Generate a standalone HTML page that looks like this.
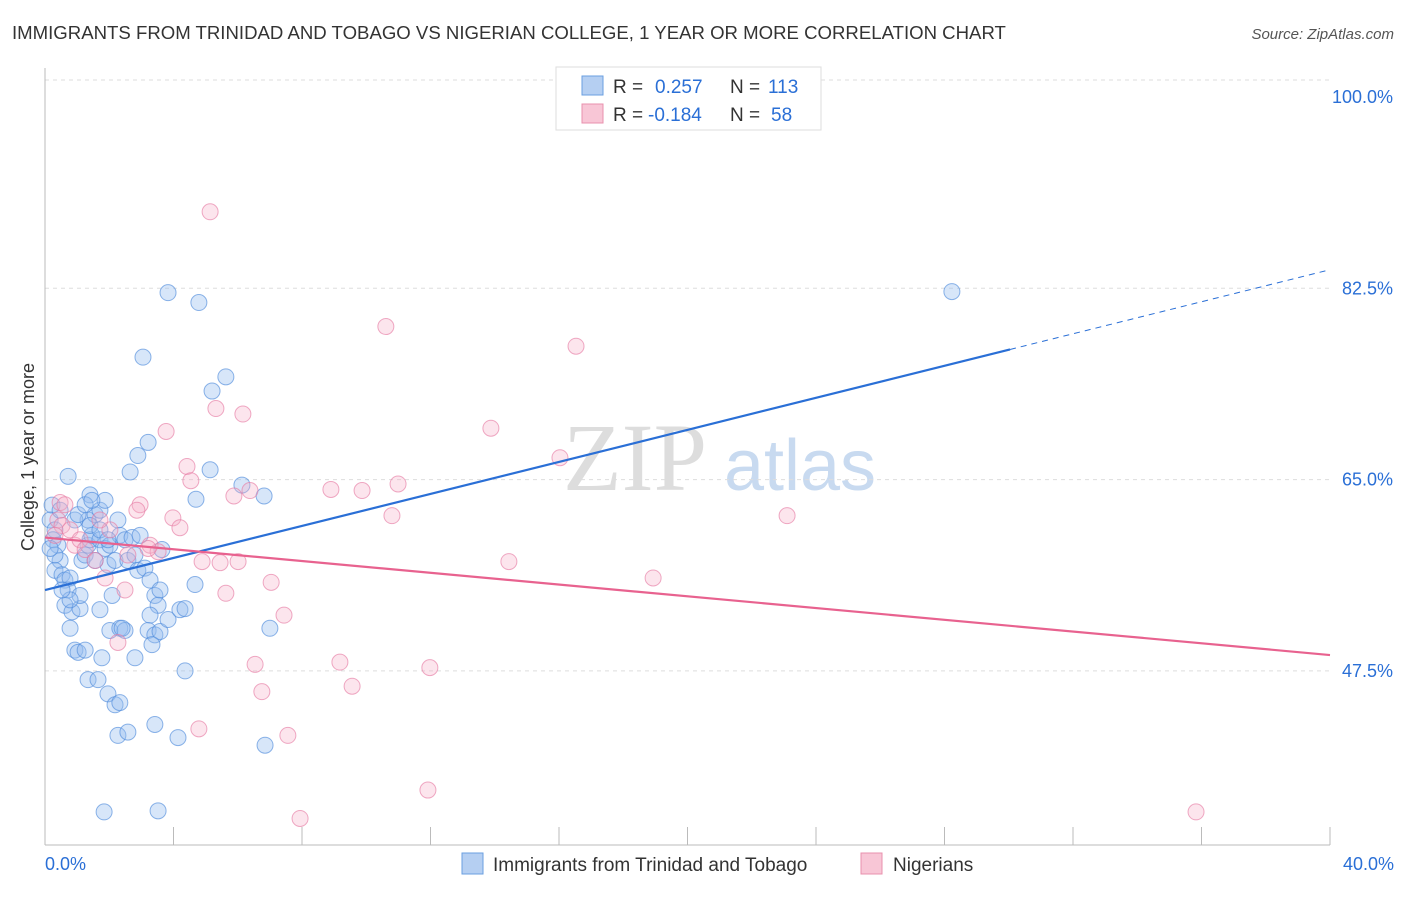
<!DOCTYPE html>
<html><head><meta charset="utf-8"><style>
body{margin:0;background:#fff;font-family:"Liberation Sans",sans-serif;}
svg text{font-family:"Liberation Sans",sans-serif;}
</style></head><body>
<svg id="chart" width="1406" height="892">
<text x="12" y="39" font-size="18.6" fill="#333">IMMIGRANTS FROM TRINIDAD AND TOBAGO VS NIGERIAN COLLEGE, 1 YEAR OR MORE CORRELATION CHART</text>
<text x="1394" y="39" font-size="15" fill="#555" font-style="italic" text-anchor="end">Source: ZipAtlas.com</text>
<text x="34" y="457" font-size="18" fill="#333" text-anchor="middle" transform="rotate(-90 34 457)">College, 1 year or more</text>
<g>
<text x="635" y="490" font-size="96" fill="#ddd" font-family="Liberation Serif" text-anchor="middle" style="font-family:'Liberation Serif',serif">ZIP</text>
<text x="800" y="490" font-size="72" fill="#c8daf0" text-anchor="middle">atlas</text>
</g>
<g id="grid"></g><g id="axes"></g><g id="pts"></g><g id="trend"></g>
<g>
<rect x="556" y="67" width="265" height="63" fill="#fff" stroke="#ddd"/>
<rect x="582" y="76" width="21" height="19" fill="#b5cff2" stroke="#6a9fe0"/>
<rect x="582" y="104" width="21" height="19" fill="#f8c6d6" stroke="#e890ad"/>
<text y="93" font-size="19" fill="#333"><tspan x="613">R =</tspan><tspan x="655" fill="#2a6fd6">0.257</tspan><tspan x="730">N =</tspan><tspan x="768" fill="#2a6fd6">113</tspan></text>
<text y="121" font-size="19" fill="#333"><tspan x="613">R =</tspan><tspan x="648" fill="#2a6fd6">-0.184</tspan><tspan x="730">N =</tspan><tspan x="771" fill="#2a6fd6">58</tspan></text>
</g>
<g>
<rect x="462" y="853" width="21" height="21" fill="#b5cff2" stroke="#6a9fe0"/>
<text x="493" y="871" font-size="19" fill="#333">Immigrants from Trinidad and Tobago</text>
<rect x="861" y="853" width="21" height="21" fill="#f8c6d6" stroke="#e890ad"/>
<text x="893" y="871" font-size="19" fill="#333">Nigerians</text>
</g>
</svg>
<script>
const yTicks=[100,82.5,65,47.5];
const yTickLabels=["100.0%","82.5%","65.0%","47.5%"];
const xTickLabels=["0.0%","40.0%"];
const blueX=[0.22,0.16,0.31,0.25,0.40,0.47,0.31,0.53,0.62,0.78,0.72,0.62,0.84,0.78,0.93,1.03,1.09,1.15,1.25,1.34,1.40,1.46,1.34,1.56,1.71,1.87,1.40,0.72,1.71,1.87,2.02,1.96,2.09,2.18,2.27,2.33,2.49,2.58,2.71,2.80,2.89,3.11,3.27,3.42,3.58,3.52,3.27,3.21,3.42,3.58,3.33,3.83,4.20,4.36,4.67,5.14,2.65,2.89,3.21,3.05,3.83,4.79,5.20,5.63,6.13,6.82,4.70,2.02,2.33,2.49,1.77,1.25,1.34,1.65,1.96,2.18,2.33,2.27,2.58,2.80,3.42,4.14,4.36,6.85,7.00,1.84,3.52,28.23,0.47,0.93,1.40,1.71,1.56,1.96,1.09,0.78,0.53,0.31,0.16,1.71,2.40,2.96,3.64,1.03,1.25,1.46];
const blueY=[62.67,61.3,60.4,59.5,59.0,57.6,56.7,56.3,55.8,56.0,54.9,53.5,52.9,51.4,49.4,49.2,53.2,57.6,58.1,59.0,59.5,59.9,61.3,61.8,62.2,63.1,63.6,65.3,59.5,58.7,59.0,57.2,54.4,57.6,61.3,59.9,59.5,57.6,59.7,58.1,56.7,56.9,55.8,54.4,54.9,53.5,52.6,51.2,50.8,51.1,49.9,52.2,53.1,53.2,55.4,65.9,65.7,67.2,68.4,76.2,82.1,81.2,73.1,74.4,64.5,63.5,63.2,51.2,51.4,51.2,48.7,49.4,46.7,46.7,45.4,44.4,44.6,41.6,41.9,48.7,42.6,41.4,47.5,40.7,51.4,34.6,34.7,82.2,62.2,61.3,60.8,60.4,57.6,59.5,54.4,54.0,54.9,58.1,58.7,53.1,51.4,59.9,58.6,61.8,62.7,63.1];
const pinkX=[5.14,10.61,16.53,3.77,5.32,6.16,4.42,4.54,5.88,6.38,8.90,9.87,10.99,10.80,13.88,16.03,23.10,14.44,18.93,2.96,2.86,3.98,4.20,0.47,0.62,0.40,0.53,0.31,0.78,0.93,1.09,1.25,2.02,2.58,3.27,3.52,1.87,2.49,4.89,5.45,6.01,7.04,5.63,7.44,2.27,6.54,9.18,9.56,11.98,6.75,4.79,7.56,7.94,11.92,35.83,1.56,3.21,1.71];
const pinkY=[89.5,79.0,77.2,69.4,71.5,71.0,66.2,64.9,63.5,64.0,64.1,64.0,64.6,61.7,69.7,67.0,61.7,57.5,56.0,62.7,62.2,61.5,60.6,62.9,62.7,61.3,60.8,59.9,60.4,59.0,59.5,58.6,60.4,58.1,59.0,58.4,56.0,54.9,57.5,57.4,57.5,55.6,54.6,52.6,50.1,48.1,48.3,46.1,47.8,45.6,42.2,41.6,34.0,36.6,34.6,57.6,58.7,61.3];
const blueTrend=[54.9,84.2]; const blueSolidEnd=30.04;
const pinkTrend=[59.7,48.95];

const NS="http://www.w3.org/2000/svg";
const sx=v=>45+v/40*1285;
const sy=v=>97+(100-v)*(191.3/17.5);
function mk(tag,attrs,parent){const e=document.createElementNS(NS,tag);for(const k in attrs)e.setAttribute(k,attrs[k]);document.getElementById(parent).appendChild(e);return e;}
let g=mk('line',{x1:45,x2:1330,y1:80,y2:80,stroke:'#ddd','stroke-dasharray':'4,4'},'grid');


yTicks.forEach((t,i)=>{
 if(i>0){const l=mk('line',{x1:45,x2:1330,y1:sy(t),y2:sy(t),stroke:'#ddd','stroke-dasharray':'4,4'},'grid');
 
 }
 const tx=mk('text',{x:1393,y:sy(t)+6,'font-size':18,fill:'#2a6fd6','text-anchor':'end'},'axes');tx.textContent=yTickLabels[i];
 
 
});
let ax=mk('line',{x1:45,x2:45,y1:68,y2:845,stroke:'#bbb'},'axes');


let bx=mk('line',{x1:45,x2:1330,y1:845,y2:845,stroke:'#bbb'},'axes');


for(let i=0;i<=10;i++){const tk=mk('line',{x1:sx(i*4),x2:sx(i*4),y1:827,y2:845,stroke:'#bbb'},'axes');
 
 }
[[0,'start',45],[40,'end',1394]].forEach((p,i)=>{const t=mk('text',{x:p[2],y:870,'font-size':18,fill:'#2a6fd6','text-anchor':p[1]},'axes');t.textContent=xTickLabels[i];
 
 });
blueX.forEach((x,i)=>{const c=mk('circle',{cx:sx(x),cy:sy(blueY[i]),r:8,fill:'rgba(150,188,238,0.38)',stroke:'rgba(80,140,220,0.65)','stroke-width':1},'pts');
 
 });
pinkX.forEach((x,i)=>{const c=mk('circle',{cx:sx(x),cy:sy(pinkY[i]),r:8,fill:'rgba(245,175,200,0.33)',stroke:'rgba(230,125,165,0.65)','stroke-width':1},'pts');
 
 });
const by=x=>blueTrend[0]+(blueTrend[1]-blueTrend[0])*x/40;
let l1=mk('line',{x1:sx(0),y1:sy(by(0)),x2:sx(blueSolidEnd),y2:sy(by(blueSolidEnd)),stroke:'#2a6fd6','stroke-width':2.2},'trend');


let l2=mk('line',{x1:sx(blueSolidEnd),y1:sy(by(blueSolidEnd)),x2:sx(40),y2:sy(by(40)),stroke:'#2a6fd6','stroke-width':1,'stroke-dasharray':'6,5'},'trend');


let l3=mk('line',{x1:sx(0),y1:sy(pinkTrend[0]),x2:sx(40),y2:sy(pinkTrend[1]),stroke:'#e8628f','stroke-width':2.2},'trend');


</script>
</body></html>
